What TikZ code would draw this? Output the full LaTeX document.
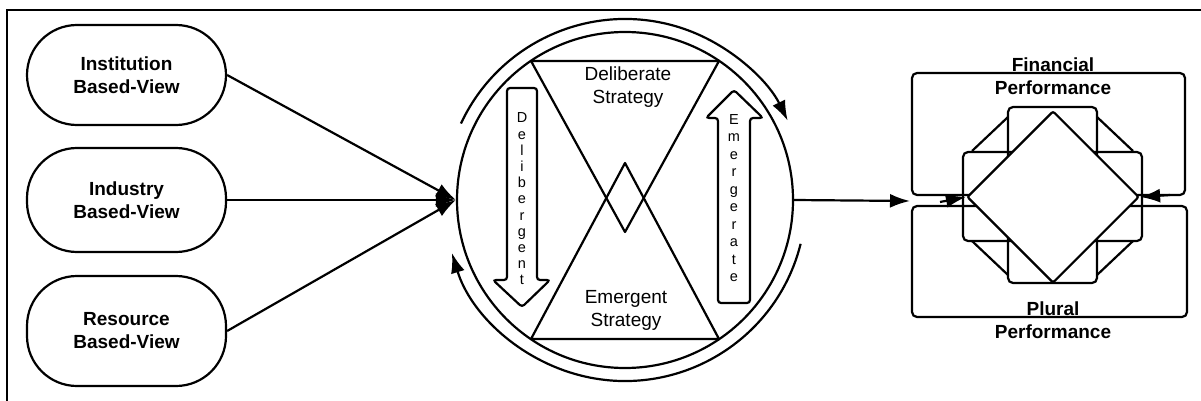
\documentclass[tikz,border=0pt]{standalone}
\usepackage{fontspec}
\setmainfont{Liberation Sans}
\usetikzlibrary{arrows.meta,calc,shapes.geometric}
\begin{document}
\begin{tikzpicture}[x=1pt,y=-1pt,line width=2.2pt,
  pill/.style={draw,rectangle,rounded corners=50pt,minimum width=199pt,align=center,
    font=\fontsize{19}{23}\selectfont\bfseries},
  lbl/.style={align=center,font=\fontsize{19}{23}\selectfont},
  blbl/.style={align=center,font=\fontsize{19}{23}\selectfont\bfseries},
  vtext/.style={align=center,font=\fontsize{14.5}{16.2}\selectfont,inner sep=0pt},
  arr/.style={-{Latex[length=20pt,width=14pt]}},
  rbox/.style={rounded corners=5pt}]
\useasboundingbox (0,0) rectangle (1201,401);
% frame
\draw (7,410) -- (7,10) -- (1210,10);
% left pills
\node[pill,minimum height=100pt] (inst) at (126.5,75) {Institution\\Based-View};
\node[pill,minimum height=104pt] (ind) at (126.5,200) {Industry\\Based-View};
\node[pill,minimum height=110pt] (res) at (126.5,331) {Resource\\Based-View};
% circle
\node[draw,circle,minimum size=336pt,inner sep=0pt] (circ) at (625,200) {};
\draw[arr] (inst.east) -- (circ.west);
\draw[arr] (ind.east) -- (circ.west);
\draw[arr] (res.east) -- (circ.west);
% outer arcs
\draw[arr] ($(circ.center)+(205:181)$) arc[start angle=205,end angle=334,radius=181];
\draw[arr] ($(circ.center)+(14:181)$) arc[start angle=14,end angle=163,radius=181];
% hourglass
\draw[line join=round] (531,61) -- (719,61) -- (625,232) -- cycle;
\draw[line join=round] (531,339) -- (719,339) -- (625,163) -- cycle;
\node[lbl] (delib) at (628,87) {Deliberate\\Strategy};
\node[lbl] (emer) at (626,310) {Emergent\\Strategy};
% down arrow
\draw[rounded corners=3pt] (507,88) -- (537,88) -- (537,280) -- (550,280) -- (522,307) -- (493,280) -- (507,280) -- cycle;
\node[vtext] (dgt) at (522,199) {D\\e\\l\\i\\b\\e\\r\\g\\e\\n\\t};
% up arrow
\draw[rounded corners=3pt] (718,303) -- (750,303) -- (750,118) -- (763,118) -- (734,90) -- (706,118) -- (718,118) -- cycle;
\node[vtext,font=\fontsize{14.5}{17.5}\selectfont] (egr) at (734,198) {E\\m\\e\\r\\g\\e\\r\\a\\t\\e};
% right section
\draw[rbox] (912,73) rectangle (1185,195);
\draw[rbox] (912,206) rectangle (1187,317);
\draw[rbox] (1008,107) rectangle (1097,283);
\draw[rbox] (963,152) rectangle (1142,241);
\draw (1008,117) -- (972,151);
\draw (1097,117) -- (1133,151);
\draw (972,241) -- (1008,275);
\draw (1133,241) -- (1097,275);
\node[draw,fill=white,diamond,inner sep=0pt,minimum size=172pt,rounded corners=2pt] (dia) at (1053,197) {};
\coordinate (rin) at (910,201);
\draw[arr] (circ.east) -- (rin);
\coordinate (la) at (940,202);
\coordinate (ra) at (1170,195);
\draw[arr] (la) -- (dia.west);
\draw[arr] (ra) -- (dia.east);
\node[blbl] (fin) at (1053,76) {Financial\\Performance};
\node[blbl] (plu) at (1053,320) {Plural\\Performance};
\end{tikzpicture}
\end{document}
